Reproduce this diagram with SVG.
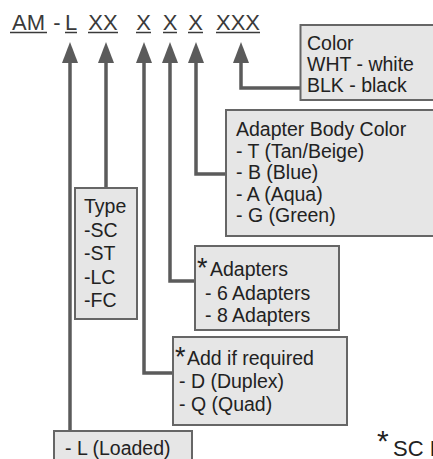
<svg xmlns="http://www.w3.org/2000/svg" width="433" height="459" viewBox="0 0 433 459">
<defs>
<style>
.hd{font-family:"Liberation Sans",Arial,sans-serif;font-size:22px;fill:#3a3a3a;text-anchor:middle}
.ul{stroke:#3a3a3a;stroke-width:1.5}
.box{fill:#e6e6e6;stroke:#666;stroke-width:2}
.t{font-family:"Liberation Sans",Arial,sans-serif;font-size:19.5px;fill:#222}
.ast{font-family:"Liberation Sans",Arial,sans-serif;font-size:27px;fill:#222}
.wire{fill:none;stroke:#5b5b5b;stroke-width:3.5}
.head{fill:#5b5b5b}
</style>
<polygon id="ah" class="head" points="0,0 -8,21 8,21"/>
</defs>
<rect width="433" height="459" fill="#fff"/>
<g id="header">
<text class="hd" x="28.5" y="29.5">AM</text>
<text class="hd" x="57" y="29.5">-</text>
<text class="hd" x="71" y="29.5">L</text>
<text class="hd" x="103" y="29.5">XX</text>
<text class="hd" x="143.5" y="29.5">X</text>
<text class="hd" x="170" y="29.5">X</text>
<text class="hd" x="195.5" y="29.5">X</text>
<text class="hd" x="238" y="29.5">XXX</text>
<line class="ul" x1="10" y1="32.5" x2="47" y2="32.5"/>
<line class="ul" x1="65" y1="32.5" x2="77" y2="32.5"/>
<line class="ul" x1="88" y1="32.5" x2="118" y2="32.5"/>
<line class="ul" x1="136" y1="32.5" x2="151" y2="32.5"/>
<line class="ul" x1="163" y1="32.5" x2="177" y2="32.5"/>
<line class="ul" x1="188" y1="32.5" x2="203" y2="32.5"/>
<line class="ul" x1="216" y1="32.5" x2="260" y2="32.5"/>
</g>
<g id="connectors">
<path class="wire" d="M70 60 V431"/>
<path class="wire" d="M106 60 V188"/>
<path class="wire" d="M144 60 V373 H173"/>
<path class="wire" d="M170 60 V281 H195"/>
<path class="wire" d="M196 60 V174 H226"/>
<path class="wire" d="M241 60 V88 H300"/>
<use href="#ah" transform="translate(70,42)"/>
<use href="#ah" transform="translate(106,42)"/>
<use href="#ah" transform="translate(144,42)"/>
<use href="#ah" transform="translate(170,42)"/>
<use href="#ah" transform="translate(196,42)"/>
<use href="#ah" transform="translate(241,42)"/>
</g>
<g id="color">
<rect class="box" x="300.5" y="25" width="150" height="75"/>
<text class="t" x="307" y="50">Color</text>
<text class="t" x="307" y="71">WHT - white</text>
<text class="t" x="307" y="92">BLK - black</text>
</g>
<g id="body-color">
<rect class="box" x="226" y="110" width="220" height="126"/>
<text class="t" x="236" y="136">Adapter Body Color</text>
<text class="t" x="236" y="157.5">- T (Tan/Beige)</text>
<text class="t" x="236" y="179">- B (Blue)</text>
<text class="t" x="236" y="200.5">- A (Aqua)</text>
<text class="t" x="236" y="222">- G (Green)</text>
</g>
<g id="type">
<rect class="box" x="75" y="188" width="62" height="131"/>
<text class="t" x="84" y="213">Type</text>
<text class="t" x="84" y="236.5">-SC</text>
<text class="t" x="84" y="260">-ST</text>
<text class="t" x="84" y="283.5">-LC</text>
<text class="t" x="84" y="307">-FC</text>
</g>
<g id="adapters">
<rect class="box" x="195" y="246" width="144" height="84"/>
<text class="ast" x="197" y="277">*</text>
<text class="t" x="210" y="276">Adapters</text>
<text class="t" x="205" y="300">- 6 Adapters</text>
<text class="t" x="205" y="322">- 8 Adapters</text>
</g>
<g id="add">
<rect class="box" x="173" y="337" width="174" height="88"/>
<text class="ast" x="175" y="366">*</text>
<text class="t" x="187" y="365">Add if required</text>
<text class="t" x="179" y="388">- D (Duplex)</text>
<text class="t" x="179" y="411">- Q (Quad)</text>
</g>
<g id="loaded">
<rect class="box" x="54" y="431" width="138" height="40"/>
<text class="t" x="65" y="455">- L (Loaded)</text>
</g>
<g id="note">
<text class="ast" x="377" y="451" style="font-size:30px">*</text>
<text class="t" x="393" y="456" style="font-size:22px">SC D</text>
</g>
</svg>
